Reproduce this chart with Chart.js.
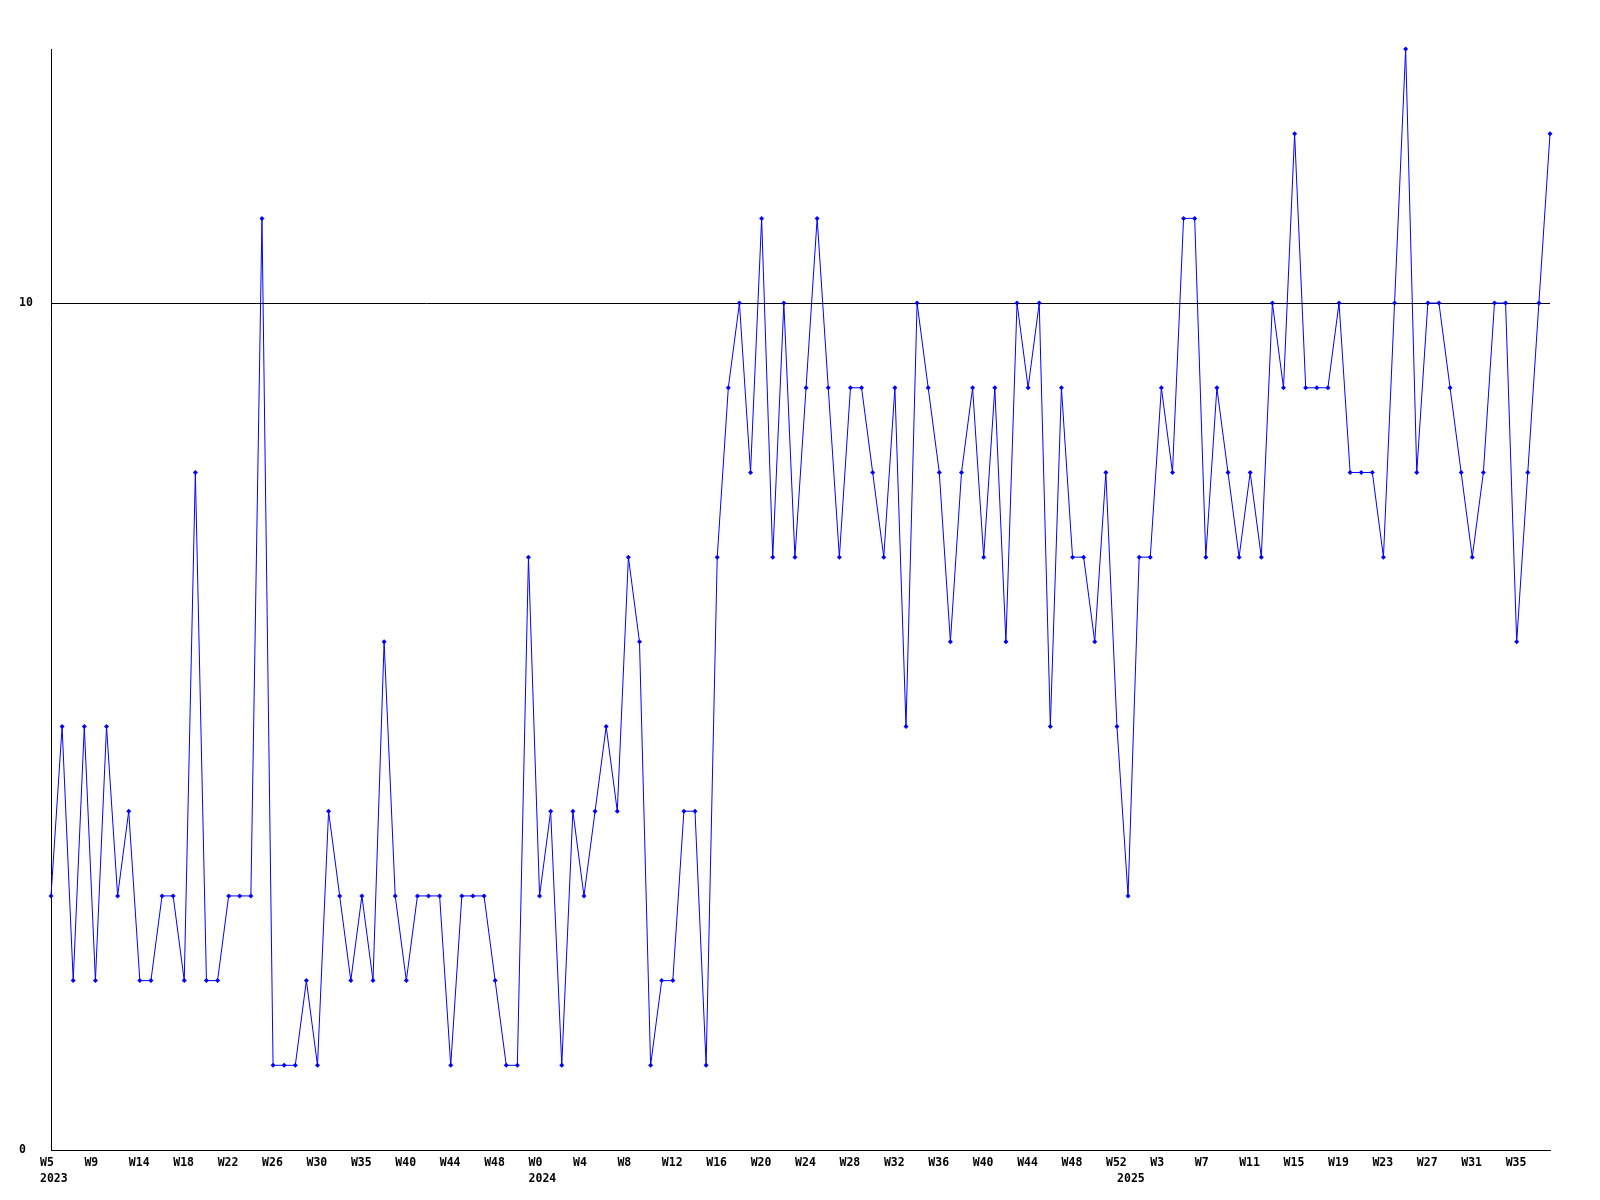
<!DOCTYPE html>
<html>
<head>
<meta charset="utf-8">
<title>Weekly count</title>
<script src="https://cdn.jsdelivr.net/npm/chart.js@4.4.1/dist/chart.umd.min.js"></script>
<style>
    html, body { margin: 0; padding: 0; background: #fff; }
    canvas { display: block; }
</style>
</head>
<body>
<canvas id="weeklyChart" width="1600" height="1200"></canvas>
<script>
// --- Data ---
const weeklyValues = [
    3, 5, 2, 5, 2, 5, 3, 4, 2, 2,
    3, 3, 2, 8, 2, 2, 3, 3, 3, 11,
    1, 1, 1, 2, 1, 4, 3, 2, 3, 2,
    6, 3, 2, 3, 3, 3, 1, 3, 3, 3,
    2, 1, 1, 7, 3, 4, 1, 4, 3, 4,
    5, 4, 7, 6, 1, 2, 2, 4, 4, 1,
    7, 9, 10, 8, 11, 7, 10, 7, 9, 11,
    9, 7, 9, 9, 8, 7, 9, 5, 10, 9,
    8, 6, 8, 9, 7, 9, 6, 10, 9, 10,
    5, 9, 7, 7, 6, 8, 5, 3, 7, 7,
    9, 8, 11, 11, 7, 9, 8, 7, 8, 7,
    10, 9, 12, 9, 9, 9, 10, 8, 8, 8,
    7, 10, 13, 8, 10, 10, 9, 8, 7, 8,
    10, 10, 6, 8, 10, 12
];

// one week label every 4 points
const weekLabels = [
    'W5', 'W9', 'W14', 'W18', 'W22', 'W26', 'W30', 'W35', 'W40', 'W44', 'W48',
    'W0', 'W4', 'W8', 'W12', 'W16', 'W20', 'W24', 'W28', 'W32', 'W36', 'W40', 'W44', 'W48', 'W52',
    'W3', 'W7', 'W11', 'W15', 'W19', 'W23', 'W27', 'W31', 'W35'
];
const weekLabelEvery = 4;

const yearNames = ['2023', '2024', '2025'];
const yearStartIndex = [0, 44, 97];

const yTickValues = [0, 10];
const yMax = 13;

// --- Chart ---
document.addEventListener('DOMContentLoaded', () => {
    const ctx = document.getElementById('weeklyChart');
    const labelFont = { family: "'DejaVu Sans Mono', monospace", size: 11.5, weight: 'bold', lineHeight: 1.35 };

    function xLabel(index) {
        const lines = [];
        if (index % weekLabelEvery === 0) lines.push(weekLabels[index / weekLabelEvery] || '');
        const y = yearStartIndex.indexOf(index);
        if (y >= 0) {
            if (!lines.length) lines.push('');
            lines.push(yearNames[y]);
        }
        return lines.length ? lines : null;
    }

    new Chart(ctx, {
        type: 'line',
        data: {
            labels: weeklyValues.map((_, i) => i),
            datasets: [{
                data: weeklyValues,
                borderColor: '#0000ff',
                backgroundColor: '#0000ff',
                borderWidth: 1,
                tension: 0,
                pointStyle: 'rectRot',
                pointRadius: 2.5,
                pointBorderWidth: 0,
                pointHoverRadius: 2.5,
                clip: false
            }]
        },
        options: {
            responsive: false,
            animation: false,
            layout: { padding: { left: 19, right: 50, top: 49, bottom: 0 } },
            plugins: { legend: { display: false }, tooltip: { enabled: false } },
            scales: {
                x: {
                    type: 'category',
                    offset: false,
                    grid: { display: false, drawTicks: false },
                    border: { display: true, color: '#000', width: 1 },
                    ticks: {
                        autoSkip: false,
                        maxRotation: 0,
                        minRotation: 0,
                        align: 'start',
                        labelOffset: -11,
                        padding: 5.5,
                        color: '#000',
                        font: labelFont,
                        callback: (value, index) => xLabel(index)
                    },
                    afterFit: scale => { scale.height = 50; }
                },
                y: {
                    min: 0,
                    max: yMax,
                    grid: {
                        drawTicks: false,
                        color: c => (c.tick && c.tick.value === 10 ? '#000' : 'rgba(0,0,0,0)'),
                        lineWidth: 1
                    },
                    border: { display: true, color: '#000', width: 1 },
                    ticks: {
                        crossAlign: 'far',
                        color: '#000',
                        font: labelFont,
                        padding: 4
                    },
                    afterBuildTicks: scale => {
                        scale.ticks = yTickValues.map(v => ({ value: v }));
                    },
                    afterFit: scale => { scale.width = 32; }
                }
            }
        }
    });
});
</script>
</body>
</html>
